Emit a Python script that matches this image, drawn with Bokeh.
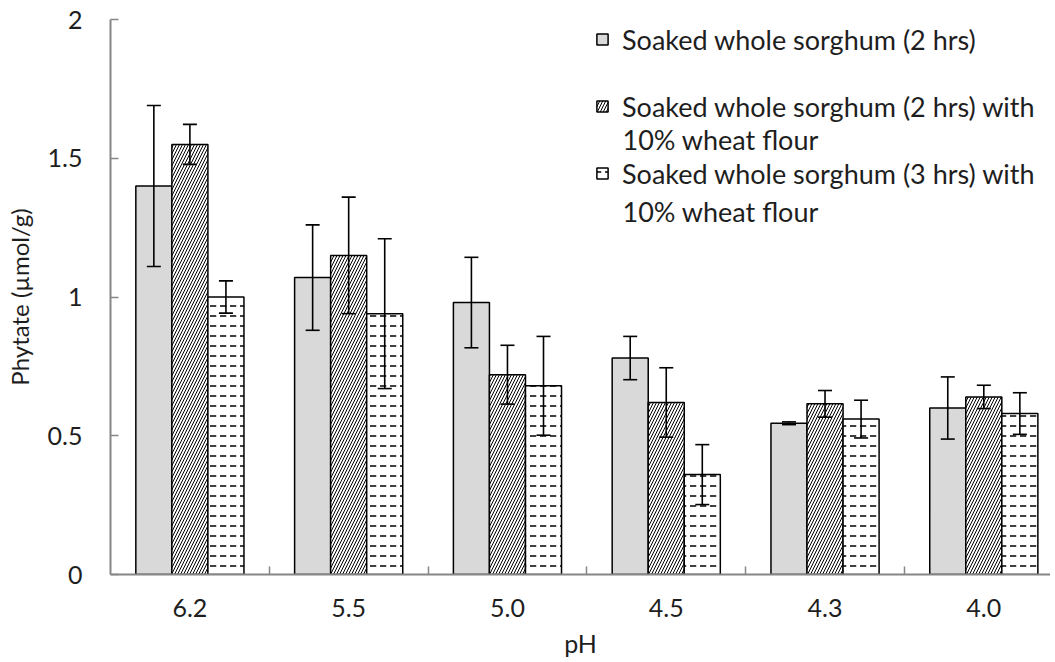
import numpy as np
from bokeh.plotting import figure
from bokeh.models import (ColumnDataSource, Range1d, FixedTicker, Whisker, TeeHead,
                          Legend, LegendItem, Label)
from bokeh.embed import file_html
from bokeh.resources import INLINE

categories = ["6.2", "5.5", "5.0", "4.5", "4.3", "4.0"]
series_names = ["Soaked whole sorghum (2 hrs)",
                "Soaked whole sorghum (2 hrs) with",
                "Soaked whole sorghum (3 hrs) with"]
second_line = "10% wheat flour"

soaked_2h = [1.40, 1.07, 0.98, 0.78, 0.545, 0.60]
soaked_2h_err = [0.29, 0.19, 0.163, 0.078, 0.005, 0.112]
soaked_2h_wheat = [1.55, 1.15, 0.72, 0.62, 0.615, 0.64]
soaked_2h_wheat_err = [0.072, 0.21, 0.106, 0.125, 0.048, 0.042]
soaked_3h_wheat = [1.00, 0.94, 0.68, 0.36, 0.56, 0.58]
soaked_3h_wheat_err = [0.058, 0.27, 0.178, 0.108, 0.068, 0.075]

y_ticks = [0, 0.5, 1, 1.5, 2]
y_tick_labels = ["0", "0.5", "1", "1.5", "2"]

FONT = "Lato"
TXT = "#1e1e1e"
AX = "#868686"

n = len(categories)
centers = np.arange(n) + 0.5
bw = 0.227
offsets = [-bw, 0.0, bw]

p = figure(width=1050, height=660, output_backend="svg", toolbar_location=None,
           x_range=Range1d(0, 5.92), y_range=Range1d(0, 2),
           min_border_left=110, min_border_right=0, min_border_top=19, min_border_bottom=85)
p.outline_line_color = None
p.xgrid.visible = False
p.ygrid.visible = False
p.background_fill_color = "white"

styles = [
    dict(fill_color="#d9d9d9"),
    dict(fill_color="white", hatch_pattern="right_diagonal_line", hatch_color="black",
         hatch_scale=6, hatch_weight=1),
    dict(fill_color="white", hatch_pattern="horizontal_dash", hatch_color="black",
         hatch_scale=10, hatch_weight=1.5),
]
data = [(soaked_2h, soaked_2h_err), (soaked_2h_wheat, soaked_2h_wheat_err),
        (soaked_3h_wheat, soaked_3h_wheat_err)]

renderers = []
for k, ((vals, errs), st) in enumerate(zip(data, styles)):
    v = np.array(vals)
    e = np.array(errs)
    src = ColumnDataSource(dict(x=centers + offsets[k], top=v, upper=v + e, lower=v - e))
    r = p.vbar(x="x", top="top", bottom=0, width=bw, source=src,
               line_color="black", line_width=1.5, **st)
    renderers.append(r)
    w = Whisker(base="x", upper="upper", lower="lower", source=src, level="overlay",
                line_color="black", line_width=1.6,
                upper_head=TeeHead(size=14, line_color="black", line_width=1.6),
                lower_head=TeeHead(size=14, line_color="black", line_width=1.6))
    p.add_layout(w)

# axes
xa = p.xaxis[0]
xa.ticker = FixedTicker(ticks=list(centers), minor_ticks=list(np.arange(1, n)))
xa.major_label_overrides = {float(c): lab for c, lab in zip(centers, categories)}
xa.major_tick_in = 0
xa.major_tick_out = 0
xa.minor_tick_in = 8
xa.minor_tick_out = 0
xa.minor_tick_line_color = AX
xa.minor_tick_line_width = 1.5
xa.axis_line_color = AX
xa.axis_line_width = 2
xa.major_label_standoff = 24
xa.major_label_text_font = FONT
xa.major_label_text_font_size = "25px"
xa.major_label_text_color = TXT
xa.axis_label = "pH"
xa.axis_label_text_font = FONT
xa.axis_label_text_font_size = "25px"
xa.axis_label_text_font_style = "normal"
xa.axis_label_text_color = TXT
xa.axis_label_standoff = 8

ya = p.yaxis[0]
ya.ticker = FixedTicker(ticks=y_ticks)
ya.major_label_overrides = {t: lab for t, lab in zip(y_ticks, y_tick_labels)}
ya.major_tick_in = 8
ya.major_tick_out = 0
ya.minor_tick_in = 0
ya.minor_tick_out = 0
ya.major_tick_line_color = AX
ya.major_tick_line_width = 1.5
ya.axis_line_color = AX
ya.axis_line_width = 2
ya.major_label_standoff = 28
ya.major_label_text_font = FONT
ya.major_label_text_font_size = "25px"
ya.major_label_text_color = TXT
ya.axis_label = "Phytate (µmol/g)"
ya.axis_label_text_font = FONT
ya.axis_label_text_font_size = "24px"
ya.axis_label_text_font_style = "normal"
ya.axis_label_text_color = TXT
ya.axis_label_standoff = 11

legend = Legend(items=[LegendItem(label=series_names[i], renderers=[renderers[i]]) for i in range(3)],
                location=(485, 384), orientation="vertical",
                glyph_width=14, glyph_height=14, label_height=34, label_standoff=13,
                spacing=33, padding=0, margin=0,
                border_line_color=None, background_fill_alpha=0,
                label_text_font=FONT, label_text_font_size="27px", label_text_color=TXT)
p.add_layout(legend)

for yy in (435, 363):
    p.add_layout(Label(x=512, y=yy, x_units="screen", y_units="screen", text=second_line,
                       text_font=FONT, text_font_size="27px", text_color=TXT,
                       text_baseline="middle", text_align="left"))

open("out.html", "w").write(file_html(p, INLINE))
